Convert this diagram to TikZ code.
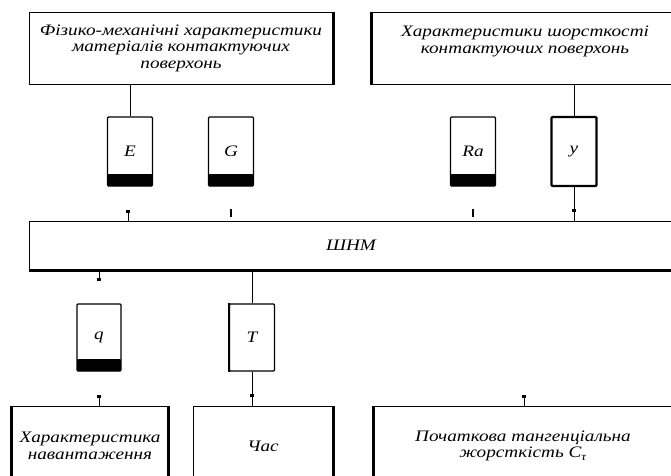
\documentclass[tikz,border=0pt]{standalone}
\usepackage{fontspec}
\setmainfont{Liberation Serif}
\newfontfamily\boxfont{Liberation Serif}[FakeStretch=1.2]
\usetikzlibrary{arrows.meta}

\tikzset{
  block/.style={draw, line width=1pt, align=center, inner sep=2pt},
  param/.style={draw, line width=1.3pt, rounded corners=1pt,
    minimum width=45pt, minimum height=69pt},
  filled/.style={path picture={\fill ([yshift=12pt]path picture bounding box.south west)
    rectangle (path picture bounding box.south east);}},
  thick border/.style={line width=2.2pt},
  edge/.style={line width=2.2pt},
  stub/.style={{Square[length=3pt,width=3.5pt]}-, line width=1pt},
  tickmark/.style={fill, inner sep=0pt, minimum width=4pt, minimum height=2.5pt}
}

\begin{document}
\begin{tikzpicture}[x=1pt, y=-1pt,
    every node/.style={font=\boxfont\itshape\fontsize{16}{16.5}\selectfont}]
    \useasboundingbox (0,0) rectangle (671,475);
    \clip (0,0) rectangle (671,475);

    % input characteristics
    \node[block, minimum width=304pt, minimum height=72pt] (mech) at (181,48)
      {Фізико-механічні характеристики\\матеріалів контактуючих\\поверхонь};
    \node[block, minimum width=306pt, minimum height=72pt] (rough) at (525,48)
      {Характеристики шорсткості\\контактуючих поверхонь\\\mbox{}};

    % parameters
    \node[param, filled] (pE) at (130,151.5) {E};
    \node[param, filled] (pG) at (231,151.5) {G};
    \node[param, filled] (pRa) at (473,151.5) {Ra};
    \node[param, thick border] (py) at (574,151.5) {y};

    % network
    \node[block, minimum width=644pt, minimum height=49pt] (ann) at (351,245.5) {ШНМ};

    \node[param, filled, minimum height=67pt, minimum width=44pt] (pq) at (99,337.5) {q};
    \node[param, minimum height=67pt] (pT) at (252,337.5) {T};

    % outputs
    \node[block, minimum width=156pt, minimum height=80pt] (load) at (90,446)
      {Характеристика\\навантаження};
    \node[block, minimum width=140pt, minimum height=80pt] (time) at (263,446) {Час};
    \node[block, minimum width=298pt, minimum height=80pt] (stiff) at (523,446)
      {Початкова тангенціальна\\жорсткість C\textsubscript{τ}};

    % heavier edges
    \draw[edge] (mech.north east) -- (mech.south east);
    \draw[edge] (rough.north west) -- (rough.south west);
    \draw[edge] (ann.south west) -- (ann.south east);
    \draw[edge] (pT.north west) -- (pT.south west);
    \draw[edge] (load.north west) -- (load.south west);
    \draw[edge] (load.north east) -- (load.south east);
    \draw[edge] (time.north east) -- (time.south east);
    \draw[edge] (stiff.north west) -- (stiff.south west);

    % connectors
    \draw[line width=1pt] (pE.north |- mech.south) -- (pE.north);
    \draw[line width=1pt] (py.north |- rough.south) -- (py.north);
    \draw[line width=1pt] (py.south) -- node[tickmark, pos=0.7] {} (py.south |- ann.north);
    \draw[line width=1pt] (pT.north |- ann.south) -- (pT.north);
    \draw[line width=1pt] (pT.south) -- node[tickmark, pos=0.7] {} (pT.south |- time.north);

    % loose ends
    \coordinate (sE) at (128,210);
    \coordinate (sG) at (231,209);
    \coordinate (sRa) at (473,209);
    \coordinate (sq) at (99,281);
    \coordinate (sload) at (99,395);
    \coordinate (sstiff) at (524,395);
    \draw[stub] (sE) -- (sE |- ann.north);
    \draw[line width=2pt] (sG) -- ++(0,8);
    \draw[line width=2pt] (sRa) -- ++(0,8);
    \draw[stub] (sq) -- (sq |- ann.south);
    \draw[stub] (sload) -- (sload |- load.north);
    \draw[stub] (sstiff) -- (sstiff |- stiff.north);
\end{tikzpicture}
\end{document}
